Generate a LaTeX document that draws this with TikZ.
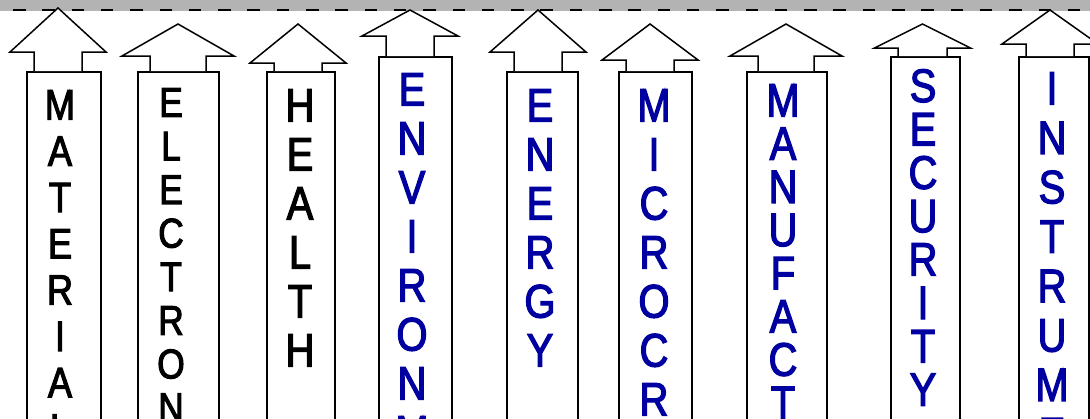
\documentclass[tikz,border=0pt]{standalone}
\usepackage{fontspec}
\newfontfamily\lettersfont[FakeStretch=0.85,FakeBold=2.6]{Liberation Sans}
\definecolor{bandgray}{RGB}{179,179,179}
\definecolor{wordblue}{RGB}{0,0,160}
\newcommand\myuparrow[6]{% cx, tip y, head base y, half shaft, half wing, bottom y
  \draw[arrowshape] (#1-#4,#6) -- (#1-#4,#3) -- (#1-#5,#3) -- (#1,#2)
    -- (#1+#5,#3) -- (#1+#4,#3) -- (#1+#4,#6);
}
\tikzset{
  colbox/.style={draw=black, line width=2pt, fill=white, inner sep=0pt, anchor=north west},
  arrowshape/.style={draw=black, line width=1.5pt, fill=white, line join=miter},
  word/.style={inner sep=0pt, anchor=north, align=center},
  blackword/.style={word, text=black},
  blueword/.style={word, text=wordblue},
}
\begin{document}
\begin{tikzpicture}[x=1pt,y=-1pt]
\useasboundingbox (0,0) rectangle (1090,418);
\clip (0,0) rectangle (1090,418);
% top band with dashed border
\fill[bandgray] (0,0) rectangle (1090,10.5);
\foreach \k in {-1,...,37} {
  \fill[black] (13+29.3*\k,8.8) rectangle (25.5+29.3*\k,11.4);
}
% column boxes
\node[colbox, minimum width=74pt, minimum height=400pt] (b1) at (26,71) {};
\node[colbox, minimum width=81pt, minimum height=400pt] (b2) at (137,71) {};
\node[colbox, minimum width=68pt, minimum height=400pt] (b3) at (266,71) {};
\node[colbox, minimum width=73pt, minimum height=400pt] (b4) at (378,56) {};
\node[colbox, minimum width=71pt, minimum height=400pt] (b5) at (506,71) {};
\node[colbox, minimum width=73pt, minimum height=400pt] (b6) at (618,71) {};
\node[colbox, minimum width=80pt, minimum height=400pt] (b7) at (746,71) {};
\node[colbox, minimum width=69pt, minimum height=400pt] (b8) at (890,56) {};
\node[colbox, minimum width=70pt, minimum height=400pt] (b9) at (1018,56) {};
% arrows
\myuparrow{58}{8}{52}{24}{48}{71}
\myuparrow{178}{24}{56}{28}{56}{71}
\myuparrow{298}{24}{63}{24}{48}{71}
\myuparrow{410}{10}{36}{24}{48}{56}
\myuparrow{538}{10}{52}{24}{48}{71}
\myuparrow{650}{24}{60}{24}{48}{71}
\myuparrow{786}{24}{56}{28}{56}{71}
\myuparrow{922.5}{24}{48}{24.5}{48}{56}
\myuparrow{1050}{10}{44}{24}{48}{56}
% words
\node[blackword, font=\lettersfont\fontsize{42.5}{46.3}\selectfont] (w1) at (60,90)
  {M\\A\\T\\E\\R\\I\\A\\L};
\node[blackword, font=\lettersfont\fontsize{41.5}{43.6}\selectfont] (w2) at (171,88)
  {E\\L\\E\\C\\T\\R\\O\\N};
\node[blackword, font=\lettersfont\fontsize{47}{49}\selectfont] (w3) at (300,89)
  {H\\E\\A\\L\\T\\H};
\node[blueword, font=\lettersfont\fontsize{47}{49}\selectfont] (w4) at (412,73)
  {E\\N\\V\\I\\R\\O\\N\\M};
\node[blueword, font=\lettersfont\fontsize{47}{49}\selectfont] (w5) at (540,89)
  {E\\N\\E\\R\\G\\Y};
\node[blueword, font=\lettersfont\fontsize{47}{49}\selectfont] (w6) at (654,89)
  {M\\I\\C\\R\\O\\C\\R};
\node[blueword, font=\lettersfont\fontsize{47}{43.2}\selectfont] (w7) at (783,84)
  {M\\A\\N\\U\\F\\A\\C\\T};
\node[blueword, font=\lettersfont\fontsize{47}{43.4}\selectfont] (w8) at (923,69)
  {S\\E\\C\\U\\R\\I\\T\\Y};
\node[blueword, font=\lettersfont\fontsize{47}{49.4}\selectfont] (w9) at (1052,72)
  {I\\N\\S\\T\\R\\U\\M\\E};
\end{tikzpicture}
\end{document}
